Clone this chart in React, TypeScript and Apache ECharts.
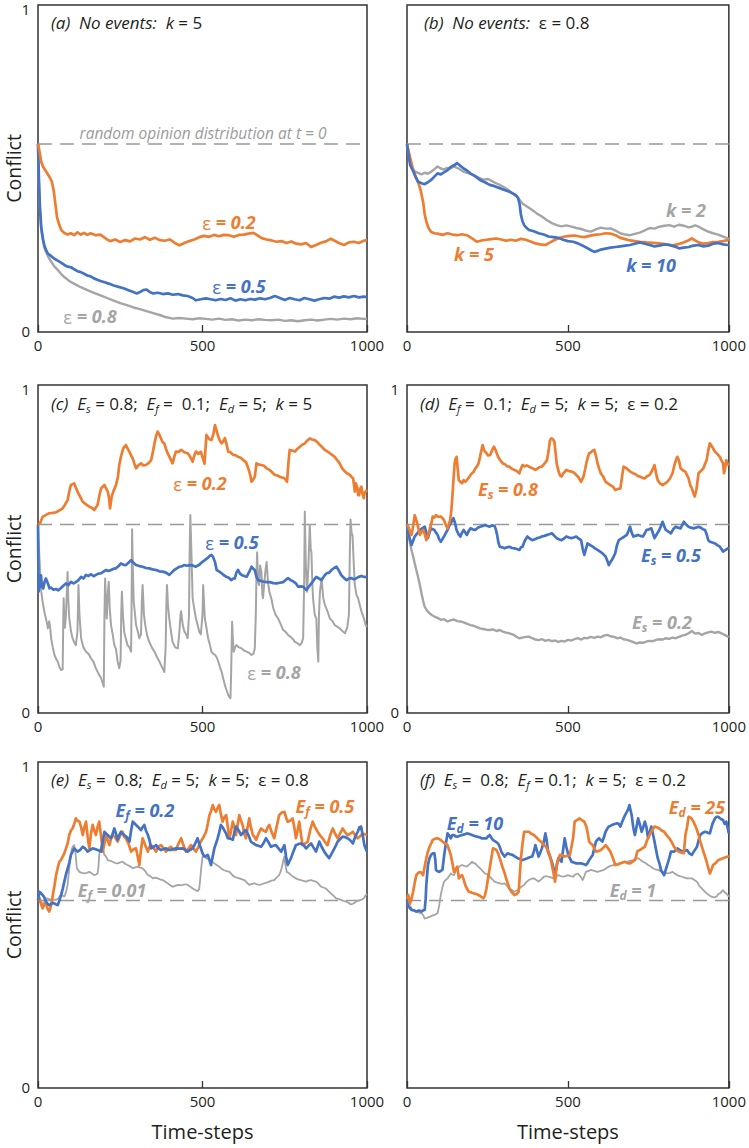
import React, { useEffect, useRef } from "react";
import * as echarts from "echarts";

// ---------- data ----------
const X_TICKS = [0, 500, 1000];
const Y_TICKS = [0, 1];
const RANDOM_BASELINE = 0.575;

// (a) No events, k = 5
const A_EPS02: number[][] = [[0,0.575],[5,0.55],[10,0.52],[15,0.506],[25,0.49],[35,0.474],[42,0.46],[48,0.43],[53,0.39],[58,0.35],[64,0.33],[71,0.311],[80,0.303],[90,0.298],[100,0.302],[110,0.296],[120,0.305],[130,0.298],[140,0.303],[150,0.297],[160,0.302],[175,0.296],[190,0.298],[200,0.29],[210,0.283],[220,0.278],[235,0.283],[250,0.275],[265,0.281],[280,0.277],[295,0.286],[310,0.283],[325,0.29],[340,0.282],[355,0.288],[370,0.281],[385,0.279],[400,0.283],[415,0.273],[430,0.265],[445,0.272],[460,0.278],[475,0.283],[490,0.29],[505,0.294],[520,0.291],[535,0.297],[550,0.293],[565,0.297],[580,0.296],[595,0.291],[610,0.297],[625,0.298],[640,0.301],[655,0.303],[665,0.297],[680,0.287],[695,0.283],[710,0.28],[725,0.276],[740,0.278],[755,0.272],[770,0.277],[785,0.27],[800,0.268],[815,0.272],[830,0.26],[845,0.266],[860,0.273],[875,0.277],[890,0.285],[900,0.28],[915,0.272],[930,0.266],[945,0.274],[960,0.276],[975,0.272],[990,0.279],[1000,0.281]];
const A_EPS05: number[][] = [[0,0.575],[3,0.46],[6,0.38],[10,0.32],[15,0.285],[20,0.262],[25,0.25],[30,0.24],[40,0.232],[50,0.224],[60,0.218],[70,0.212],[80,0.205],[90,0.2],[100,0.198],[110,0.192],[120,0.186],[130,0.183],[140,0.178],[150,0.173],[160,0.17],[170,0.164],[180,0.16],[190,0.156],[200,0.153],[215,0.148],[230,0.142],[245,0.138],[260,0.134],[275,0.128],[290,0.122],[300,0.118],[310,0.122],[320,0.128],[330,0.13],[340,0.122],[350,0.118],[365,0.12],[380,0.116],[395,0.118],[410,0.114],[425,0.116],[440,0.112],[455,0.11],[470,0.104],[480,0.097],[495,0.1],[510,0.103],[525,0.1],[540,0.097],[555,0.101],[570,0.098],[585,0.103],[600,0.096],[615,0.1],[630,0.097],[645,0.101],[660,0.099],[675,0.103],[690,0.1],[705,0.104],[720,0.11],[735,0.104],[750,0.098],[765,0.104],[780,0.1],[795,0.097],[810,0.104],[825,0.1],[840,0.096],[855,0.1],[870,0.104],[885,0.102],[900,0.108],[915,0.105],[930,0.109],[945,0.106],[960,0.11],[975,0.106],[990,0.108],[1000,0.107]];
const A_EPS08: number[][] = [[0,0.575],[3,0.45],[6,0.37],[10,0.31],[15,0.28],[20,0.255],[30,0.232],[40,0.215],[50,0.2],[60,0.19],[70,0.178],[80,0.168],[90,0.16],[100,0.153],[115,0.145],[130,0.137],[150,0.128],[170,0.12],[190,0.112],[210,0.104],[230,0.096],[250,0.088],[270,0.082],[290,0.075],[310,0.07],[330,0.064],[350,0.058],[370,0.052],[390,0.045],[410,0.041],[430,0.043],[450,0.041],[470,0.039],[490,0.042],[510,0.04],[530,0.038],[550,0.041],[570,0.037],[590,0.039],[610,0.035],[630,0.038],[650,0.036],[670,0.039],[690,0.037],[710,0.036],[730,0.038],[750,0.034],[770,0.036],[790,0.033],[810,0.036],[830,0.038],[850,0.035],[870,0.038],[890,0.04],[910,0.038],[930,0.041],[950,0.039],[970,0.042],[990,0.04],[1000,0.041]];

// (b) No events, eps = 0.8
const B_K2: number[][] = [[0,0.574],[5,0.545],[10,0.52],[14,0.51],[20,0.495],[30,0.488],[45,0.482],[55,0.487],[65,0.484],[75,0.49],[85,0.498],[95,0.506],[105,0.5],[115,0.497],[125,0.502],[135,0.5],[146,0.506],[160,0.5],[176,0.49],[190,0.486],[207,0.48],[222,0.472],[237,0.466],[252,0.468],[267,0.46],[283,0.452],[298,0.445],[313,0.436],[328,0.424],[343,0.412],[359,0.393],[374,0.383],[389,0.373],[404,0.362],[419,0.353],[435,0.342],[450,0.333],[465,0.327],[480,0.323],[495,0.326],[511,0.322],[526,0.318],[541,0.315],[556,0.31],[571,0.307],[587,0.314],[602,0.319],[617,0.316],[632,0.317],[648,0.31],[663,0.302],[678,0.298],[693,0.296],[708,0.3],[723,0.304],[739,0.311],[754,0.318],[769,0.316],[784,0.322],[800,0.325],[815,0.327],[830,0.322],[845,0.328],[860,0.325],[875,0.32],[885,0.322],[895,0.326],[906,0.322],[921,0.314],[936,0.307],[951,0.302],[967,0.298],[982,0.292],[997,0.286],[1000,0.284]];
const B_K5: number[][] = [[0,0.574],[8,0.54],[18,0.5],[26,0.475],[34,0.46],[42,0.435],[50,0.398],[55,0.36],[60,0.337],[67,0.318],[75,0.306],[85,0.302],[95,0.301],[110,0.297],[126,0.302],[141,0.298],[156,0.296],[171,0.299],[186,0.296],[202,0.286],[217,0.276],[232,0.28],[247,0.282],[262,0.284],[278,0.286],[293,0.283],[308,0.279],[323,0.282],[338,0.279],[354,0.285],[369,0.282],[384,0.277],[399,0.271],[414,0.268],[430,0.266],[445,0.274],[460,0.282],[475,0.288],[490,0.292],[506,0.294],[521,0.295],[536,0.292],[551,0.29],[566,0.294],[582,0.297],[602,0.299],[617,0.302],[632,0.301],[648,0.296],[663,0.288],[678,0.284],[693,0.28],[708,0.278],[723,0.276],[744,0.274],[764,0.273],[784,0.271],[805,0.268],[825,0.265],[840,0.268],[855,0.272],[870,0.278],[885,0.286],[895,0.28],[906,0.274],[921,0.27],[936,0.272],[951,0.275],[967,0.276],[982,0.278],[997,0.281],[1000,0.281]];
const B_K10: number[][] = [[0,0.574],[5,0.54],[10,0.51],[20,0.49],[34,0.46],[45,0.455],[55,0.452],[65,0.458],[75,0.465],[85,0.475],[95,0.485],[105,0.482],[115,0.488],[125,0.494],[136,0.505],[146,0.51],[156,0.516],[166,0.508],[176,0.5],[186,0.494],[197,0.485],[212,0.476],[227,0.465],[242,0.458],[257,0.45],[272,0.446],[288,0.44],[303,0.434],[318,0.429],[328,0.424],[338,0.419],[345,0.41],[350,0.39],[354,0.358],[359,0.338],[364,0.327],[372,0.318],[379,0.312],[394,0.308],[409,0.302],[425,0.298],[440,0.292],[455,0.29],[470,0.288],[485,0.282],[500,0.278],[516,0.276],[531,0.271],[546,0.264],[561,0.256],[572,0.25],[582,0.245],[592,0.248],[602,0.252],[617,0.255],[632,0.258],[648,0.26],[663,0.262],[678,0.264],[693,0.266],[708,0.27],[723,0.274],[739,0.27],[754,0.266],[769,0.262],[784,0.264],[800,0.268],[815,0.266],[830,0.262],[845,0.256],[860,0.258],[875,0.26],[890,0.264],[906,0.266],[921,0.262],[936,0.264],[951,0.27],[967,0.272],[982,0.268],[997,0.266],[1000,0.266]];

// (c) Es=0.8, Ef=0.1, Ed=5, k=5
const C_EPS02: number[][] = [[0,0.575],[6,0.578],[14,0.598],[24,0.604],[34,0.609],[45,0.61],[55,0.612],[65,0.618],[75,0.624],[82,0.635],[90,0.649],[96,0.68],[100,0.695],[110,0.7],[120,0.675],[128,0.66],[136,0.644],[146,0.636],[156,0.629],[165,0.625],[171,0.619],[181,0.634],[188,0.67],[192,0.685],[202,0.695],[212,0.675],[216,0.655],[219,0.624],[224,0.66],[229,0.675],[237,0.695],[243,0.72],[247,0.756],[253,0.785],[259,0.807],[267,0.817],[273,0.805],[278,0.796],[283,0.785],[288,0.776],[293,0.76],[298,0.746],[305,0.755],[313,0.761],[320,0.755],[328,0.756],[336,0.762],[344,0.771],[350,0.8],[354,0.822],[359,0.845],[364,0.858],[369,0.848],[374,0.837],[379,0.825],[384,0.822],[389,0.805],[394,0.792],[400,0.78],[409,0.761],[414,0.78],[419,0.797],[427,0.796],[435,0.802],[445,0.795],[455,0.792],[462,0.782],[470,0.766],[475,0.785],[480,0.797],[488,0.79],[495,0.797],[500,0.78],[506,0.76],[512,0.848],[520,0.835],[527,0.832],[533,0.85],[538,0.878],[543,0.86],[548,0.842],[553,0.83],[558,0.822],[563,0.828],[568,0.838],[573,0.82],[578,0.797],[585,0.795],[593,0.787],[600,0.786],[608,0.781],[616,0.778],[624,0.771],[632,0.765],[639,0.746],[644,0.73],[649,0.705],[654,0.712],[659,0.72],[664,0.761],[672,0.757],[679,0.756],[687,0.754],[695,0.746],[702,0.742],[710,0.736],[715,0.73],[720,0.726],[728,0.724],[735,0.72],[742,0.718],[750,0.715],[757,0.705],[761,0.76],[765,0.802],[773,0.8],[781,0.797],[788,0.805],[796,0.812],[803,0.818],[811,0.822],[818,0.83],[826,0.837],[833,0.834],[841,0.832],[849,0.826],[857,0.817],[864,0.81],[872,0.802],[880,0.797],[887,0.792],[895,0.786],[902,0.781],[910,0.77],[917,0.761],[925,0.745],[933,0.736],[940,0.73],[948,0.726],[953,0.72],[958,0.715],[963,0.675],[966,0.7],[970,0.69],[973,0.665],[976,0.664],[980,0.685],[983,0.69],[986,0.67],[990,0.655],[993,0.672],[996,0.675],[1000,0.68]];
const C_EPS05: number[][] = [[0,0.573],[1,0.45],[2,0.37],[5,0.39],[9,0.42],[12,0.385],[16,0.38],[20,0.4],[24,0.41],[30,0.395],[35,0.38],[40,0.382],[47,0.376],[55,0.378],[62,0.374],[70,0.381],[77,0.388],[85,0.395],[92,0.39],[100,0.4],[108,0.395],[115,0.399],[123,0.405],[131,0.415],[138,0.41],[146,0.421],[154,0.418],[161,0.423],[169,0.417],[176,0.421],[184,0.425],[192,0.426],[200,0.432],[207,0.436],[215,0.433],[222,0.436],[230,0.44],[237,0.441],[245,0.448],[252,0.456],[260,0.452],[267,0.451],[275,0.458],[283,0.466],[290,0.458],[298,0.451],[308,0.448],[318,0.446],[328,0.442],[338,0.441],[348,0.438],[359,0.436],[369,0.432],[379,0.431],[389,0.428],[399,0.421],[406,0.428],[414,0.436],[422,0.441],[430,0.446],[437,0.447],[445,0.451],[452,0.449],[460,0.451],[470,0.45],[480,0.446],[490,0.452],[500,0.461],[507,0.466],[515,0.472],[522,0.479],[527,0.482],[532,0.476],[538,0.46],[543,0.436],[550,0.432],[558,0.426],[565,0.42],[573,0.415],[580,0.412],[588,0.405],[593,0.41],[598,0.41],[603,0.428],[608,0.436],[614,0.425],[619,0.421],[627,0.418],[634,0.415],[642,0.43],[649,0.446],[654,0.44],[659,0.436],[664,0.415],[669,0.405],[677,0.403],[684,0.401],[695,0.399],[705,0.399],[715,0.396],[725,0.395],[735,0.397],[745,0.399],[752,0.405],[760,0.411],[768,0.405],[776,0.401],[784,0.395],[791,0.385],[799,0.386],[806,0.385],[811,0.38],[816,0.375],[823,0.385],[831,0.395],[838,0.405],[846,0.415],[854,0.41],[862,0.405],[870,0.418],[877,0.426],[885,0.428],[892,0.436],[900,0.442],[907,0.446],[914,0.435],[922,0.42],[930,0.412],[938,0.405],[945,0.41],[953,0.411],[960,0.408],[968,0.411],[975,0.415],[983,0.418],[990,0.415],[1000,0.414]];
const C_EPS08: number[][] = [[0,0.573],[3,0.5],[6,0.44],[10,0.37],[14,0.339],[19,0.31],[24,0.289],[28,0.27],[30,0.258],[34,0.28],[37,0.26],[40,0.228],[45,0.2],[50,0.177],[55,0.165],[60,0.157],[65,0.14],[70,0.131],[75,0.133],[77,0.3],[78,0.35],[80,0.28],[82,0.26],[85,0.3],[88,0.38],[90,0.43],[92,0.35],[95,0.29],[100,0.25],[105,0.228],[110,0.215],[115,0.207],[120,0.25],[123,0.39],[126,0.3],[131,0.228],[138,0.2],[146,0.187],[154,0.18],[161,0.167],[169,0.155],[176,0.136],[184,0.12],[192,0.106],[197,0.09],[200,0.08],[202,0.3],[204,0.41],[207,0.33],[209,0.288],[212,0.36],[215,0.4],[218,0.32],[222,0.268],[227,0.24],[232,0.207],[237,0.195],[242,0.157],[247,0.136],[251,0.16],[253,0.3],[255,0.37],[258,0.3],[262,0.248],[267,0.226],[272,0.207],[278,0.2],[283,0.187],[285,0.4],[286,0.56],[288,0.45],[291,0.339],[295,0.3],[298,0.268],[303,0.25],[308,0.228],[313,0.24],[316,0.35],[318,0.39],[322,0.3],[326,0.268],[332,0.235],[338,0.217],[346,0.2],[354,0.187],[362,0.17],[369,0.157],[377,0.14],[384,0.125],[388,0.2],[390,0.32],[392,0.39],[395,0.33],[399,0.288],[404,0.25],[409,0.217],[417,0.2],[425,0.197],[430,0.25],[433,0.3],[435,0.31],[440,0.268],[445,0.248],[450,0.24],[455,0.228],[459,0.3],[461,0.5],[463,0.604],[466,0.5],[470,0.35],[475,0.317],[480,0.288],[485,0.27],[490,0.248],[495,0.24],[500,0.3],[502,0.39],[505,0.33],[507,0.288],[512,0.26],[517,0.228],[522,0.21],[527,0.187],[533,0.18],[538,0.177],[543,0.17],[548,0.157],[553,0.14],[558,0.126],[563,0.105],[568,0.085],[573,0.07],[578,0.055],[582,0.048],[585,0.045],[587,0.12],[590,0.278],[592,0.23],[595,0.187],[599,0.2],[603,0.207],[611,0.2],[619,0.197],[627,0.19],[634,0.187],[642,0.183],[649,0.177],[655,0.18],[659,0.197],[662,0.3],[664,0.42],[666,0.49],[669,0.4],[672,0.39],[675,0.45],[679,0.431],[682,0.36],[684,0.35],[688,0.4],[692,0.44],[695,0.46],[699,0.4],[703,0.37],[709,0.35],[715,0.32],[722,0.3],[730,0.288],[738,0.27],[745,0.253],[752,0.248],[760,0.238],[768,0.232],[775,0.225],[781,0.217],[788,0.213],[796,0.207],[801,0.213],[806,0.228],[809,0.4],[811,0.614],[814,0.45],[818,0.37],[822,0.45],[826,0.573],[829,0.5],[831,0.49],[834,0.39],[836,0.35],[841,0.3],[846,0.288],[849,0.2],[852,0.157],[854,0.3],[857,0.37],[862,0.41],[867,0.35],[872,0.33],[880,0.31],[887,0.288],[895,0.28],[902,0.268],[910,0.263],[917,0.258],[925,0.25],[933,0.243],[940,0.26],[945,0.3],[948,0.5],[950,0.59],[953,0.55],[956,0.54],[960,0.45],[963,0.39],[968,0.36],[973,0.35],[978,0.33],[983,0.31],[990,0.29],[996,0.268],[1000,0.262]];

// (d) Ef=0.1, Ed=5, k=5, eps=0.2
const D_ES08: number[][] = [[0,0.575],[4,0.568],[9,0.555],[14,0.543],[19,0.57],[24,0.603],[28,0.59],[32,0.578],[36,0.56],[40,0.543],[45,0.552],[50,0.558],[55,0.545],[60,0.527],[65,0.54],[70,0.558],[75,0.575],[80,0.599],[85,0.596],[90,0.603],[97,0.598],[105,0.599],[110,0.594],[115,0.588],[120,0.575],[126,0.563],[130,0.575],[134,0.588],[138,0.62],[141,0.66],[145,0.72],[148,0.761],[151,0.775],[154,0.781],[158,0.74],[161,0.71],[166,0.705],[171,0.7],[176,0.71],[181,0.705],[186,0.71],[192,0.718],[197,0.725],[202,0.731],[207,0.735],[212,0.745],[217,0.751],[222,0.76],[227,0.781],[231,0.8],[235,0.817],[240,0.8],[247,0.792],[252,0.785],[259,0.787],[264,0.8],[270,0.812],[276,0.8],[283,0.781],[290,0.77],[298,0.761],[305,0.758],[311,0.752],[318,0.751],[325,0.745],[334,0.741],[341,0.738],[349,0.731],[354,0.745],[359,0.756],[366,0.752],[372,0.755],[379,0.751],[386,0.748],[392,0.745],[399,0.741],[405,0.745],[412,0.75],[419,0.751],[427,0.76],[435,0.771],[440,0.8],[444,0.83],[448,0.837],[453,0.835],[458,0.827],[462,0.79],[465,0.761],[470,0.74],[475,0.725],[480,0.721],[485,0.73],[490,0.735],[495,0.741],[503,0.738],[511,0.736],[518,0.733],[526,0.726],[533,0.718],[541,0.705],[548,0.72],[553,0.741],[558,0.765],[562,0.78],[566,0.792],[572,0.795],[577,0.8],[582,0.802],[587,0.785],[592,0.761],[597,0.745],[602,0.731],[610,0.72],[617,0.705],[624,0.7],[632,0.695],[640,0.69],[647,0.68],[655,0.683],[663,0.685],[668,0.72],[673,0.751],[680,0.748],[688,0.741],[695,0.735],[703,0.731],[710,0.728],[718,0.722],[723,0.721],[730,0.718],[738,0.715],[746,0.722],[754,0.726],[762,0.74],[769,0.756],[774,0.73],[779,0.71],[786,0.7],[794,0.695],[802,0.7],[809,0.705],[817,0.715],[825,0.731],[832,0.76],[837,0.775],[840,0.781],[845,0.77],[850,0.746],[857,0.74],[865,0.736],[870,0.725],[875,0.715],[880,0.695],[885,0.685],[890,0.67],[894,0.66],[899,0.68],[906,0.731],[913,0.738],[921,0.746],[926,0.76],[931,0.771],[936,0.8],[941,0.822],[946,0.815],[952,0.805],[957,0.797],[964,0.79],[972,0.781],[977,0.77],[982,0.761],[985,0.731],[988,0.745],[992,0.771],[996,0.76],[1000,0.755]];
const D_ES05: number[][] = [[0,0.575],[4,0.548],[9,0.53],[14,0.512],[19,0.525],[24,0.538],[30,0.545],[35,0.552],[40,0.558],[47,0.563],[55,0.568],[60,0.55],[65,0.533],[70,0.55],[75,0.563],[80,0.56],[85,0.558],[90,0.55],[95,0.543],[100,0.53],[105,0.522],[110,0.53],[115,0.538],[120,0.548],[126,0.558],[131,0.57],[136,0.578],[140,0.588],[144,0.594],[149,0.58],[154,0.558],[160,0.545],[166,0.538],[171,0.55],[176,0.558],[181,0.55],[186,0.543],[192,0.555],[197,0.563],[204,0.56],[212,0.558],[220,0.565],[227,0.568],[235,0.57],[242,0.573],[250,0.57],[257,0.568],[264,0.572],[272,0.57],[276,0.56],[280,0.543],[284,0.52],[288,0.507],[295,0.505],[303,0.502],[311,0.505],[318,0.507],[326,0.503],[334,0.502],[341,0.5],[349,0.497],[354,0.505],[359,0.507],[366,0.525],[374,0.538],[381,0.532],[389,0.527],[397,0.53],[404,0.533],[412,0.535],[419,0.538],[427,0.54],[435,0.543],[442,0.545],[450,0.548],[458,0.54],[465,0.533],[472,0.53],[480,0.527],[488,0.532],[495,0.538],[503,0.535],[511,0.533],[518,0.535],[526,0.538],[533,0.532],[541,0.527],[546,0.5],[551,0.482],[556,0.5],[561,0.517],[569,0.512],[577,0.507],[584,0.502],[592,0.497],[600,0.492],[607,0.487],[612,0.482],[617,0.477],[622,0.465],[627,0.451],[632,0.46],[637,0.467],[642,0.477],[647,0.487],[652,0.51],[658,0.527],[663,0.53],[668,0.533],[675,0.538],[683,0.543],[688,0.555],[693,0.568],[698,0.55],[703,0.538],[710,0.54],[718,0.543],[725,0.54],[733,0.538],[739,0.548],[744,0.558],[752,0.56],[759,0.563],[764,0.548],[769,0.533],[776,0.545],[784,0.558],[789,0.57],[794,0.583],[799,0.57],[804,0.558],[812,0.553],[820,0.548],[827,0.56],[835,0.568],[842,0.565],[850,0.563],[855,0.573],[860,0.583],[867,0.575],[875,0.568],[882,0.565],[890,0.563],[898,0.565],[906,0.568],[913,0.565],[920,0.56],[926,0.558],[931,0.545],[936,0.527],[941,0.522],[949,0.52],[957,0.517],[964,0.512],[972,0.507],[977,0.5],[982,0.492],[990,0.497],[997,0.502],[1000,0.5]];
const D_ES02: number[][] = [[0,0.575],[4,0.548],[9,0.52],[14,0.497],[19,0.478],[24,0.456],[29,0.436],[34,0.416],[40,0.39],[45,0.365],[50,0.342],[55,0.324],[62,0.312],[70,0.304],[78,0.298],[85,0.294],[95,0.29],[105,0.284],[115,0.286],[126,0.279],[136,0.283],[146,0.285],[156,0.28],[166,0.279],[176,0.276],[187,0.272],[197,0.268],[207,0.266],[217,0.262],[227,0.258],[237,0.256],[247,0.254],[257,0.253],[267,0.255],[278,0.25],[288,0.253],[298,0.248],[308,0.245],[318,0.243],[328,0.24],[339,0.233],[349,0.228],[359,0.23],[369,0.232],[379,0.233],[389,0.228],[399,0.224],[409,0.222],[420,0.225],[430,0.22],[440,0.223],[450,0.219],[460,0.221],[470,0.217],[480,0.22],[490,0.218],[500,0.223],[511,0.221],[521,0.225],[531,0.228],[541,0.224],[551,0.229],[561,0.228],[571,0.232],[582,0.229],[592,0.233],[602,0.231],[612,0.236],[622,0.238],[632,0.234],[643,0.232],[653,0.228],[663,0.23],[673,0.225],[683,0.223],[693,0.22],[703,0.216],[713,0.212],[723,0.215],[734,0.214],[744,0.218],[754,0.22],[764,0.219],[774,0.223],[784,0.225],[794,0.224],[804,0.228],[814,0.226],[825,0.23],[835,0.228],[845,0.232],[855,0.236],[865,0.238],[875,0.243],[885,0.25],[895,0.242],[906,0.244],[916,0.238],[926,0.243],[936,0.246],[946,0.248],[956,0.244],[967,0.247],[977,0.243],[987,0.238],[997,0.233],[1000,0.234]];

// (e) Es=0.8, Ed=5, k=5, eps=0.8
const E_EF05: number[][] = [[0,0.575],[4,0.582],[9,0.565],[14,0.551],[19,0.562],[24,0.566],[29,0.55],[34,0.541],[40,0.56],[45,0.592],[50,0.62],[55,0.653],[60,0.675],[65,0.694],[70,0.7],[75,0.71],[80,0.72],[85,0.735],[90,0.75],[95,0.776],[100,0.79],[105,0.796],[110,0.81],[115,0.827],[120,0.82],[126,0.817],[131,0.8],[136,0.776],[141,0.8],[146,0.817],[151,0.77],[156,0.735],[161,0.78],[166,0.807],[171,0.79],[176,0.776],[181,0.8],[186,0.817],[192,0.77],[197,0.725],[202,0.75],[207,0.776],[212,0.76],[217,0.745],[222,0.765],[227,0.776],[234,0.77],[242,0.756],[250,0.775],[257,0.786],[262,0.77],[267,0.766],[275,0.75],[283,0.725],[290,0.732],[298,0.735],[303,0.71],[308,0.684],[313,0.73],[318,0.766],[326,0.745],[334,0.725],[339,0.74],[344,0.745],[352,0.735],[359,0.725],[366,0.74],[374,0.745],[382,0.735],[389,0.725],[397,0.735],[404,0.74],[412,0.73],[419,0.73],[427,0.75],[435,0.766],[442,0.745],[450,0.725],[458,0.735],[465,0.745],[472,0.735],[480,0.725],[488,0.74],[495,0.756],[503,0.77],[511,0.786],[516,0.81],[521,0.837],[526,0.85],[531,0.868],[536,0.855],[541,0.847],[546,0.86],[551,0.868],[556,0.84],[561,0.817],[566,0.83],[572,0.837],[577,0.8],[582,0.766],[587,0.79],[592,0.817],[597,0.8],[602,0.776],[607,0.81],[612,0.837],[617,0.82],[622,0.807],[627,0.78],[632,0.766],[637,0.8],[642,0.827],[647,0.8],[653,0.776],[658,0.77],[663,0.761],[670,0.78],[678,0.796],[685,0.79],[693,0.786],[698,0.8],[703,0.807],[710,0.785],[718,0.766],[725,0.8],[733,0.837],[741,0.845],[749,0.847],[754,0.83],[759,0.817],[766,0.82],[774,0.827],[779,0.8],[784,0.766],[789,0.79],[794,0.817],[799,0.78],[804,0.745],[812,0.75],[820,0.756],[827,0.79],[835,0.817],[842,0.8],[850,0.786],[857,0.775],[865,0.766],[872,0.755],[880,0.745],[888,0.775],[896,0.796],[903,0.78],[911,0.766],[918,0.78],[926,0.796],[933,0.785],[941,0.776],[949,0.78],[957,0.786],[964,0.775],[972,0.766],[980,0.773],[987,0.781],[994,0.778],[1000,0.776]];
const E_EF02: number[][] = [[0,0.575],[4,0.602],[9,0.598],[14,0.592],[19,0.585],[24,0.572],[29,0.565],[34,0.561],[40,0.565],[45,0.568],[50,0.566],[55,0.563],[60,0.561],[65,0.575],[70,0.592],[75,0.61],[80,0.633],[85,0.655],[90,0.673],[95,0.69],[100,0.715],[105,0.725],[110,0.735],[115,0.73],[120,0.725],[128,0.73],[136,0.74],[143,0.735],[151,0.725],[158,0.73],[166,0.735],[173,0.733],[181,0.73],[186,0.728],[192,0.725],[197,0.76],[202,0.786],[207,0.78],[212,0.776],[217,0.77],[222,0.766],[227,0.78],[232,0.796],[237,0.78],[242,0.761],[247,0.775],[252,0.786],[257,0.78],[262,0.776],[270,0.77],[278,0.756],[283,0.79],[288,0.817],[293,0.812],[298,0.807],[305,0.8],[313,0.791],[318,0.8],[323,0.807],[328,0.79],[334,0.776],[339,0.76],[344,0.735],[352,0.74],[359,0.745],[366,0.735],[374,0.73],[382,0.733],[389,0.735],[397,0.73],[404,0.73],[412,0.733],[419,0.735],[430,0.734],[440,0.735],[448,0.73],[455,0.725],[462,0.73],[470,0.735],[478,0.75],[485,0.766],[490,0.75],[495,0.735],[500,0.72],[506,0.71],[511,0.712],[516,0.715],[521,0.7],[526,0.684],[531,0.71],[536,0.735],[541,0.75],[546,0.766],[551,0.785],[556,0.807],[561,0.8],[566,0.791],[572,0.78],[577,0.766],[585,0.765],[592,0.761],[597,0.785],[602,0.802],[610,0.79],[617,0.776],[625,0.785],[632,0.791],[640,0.775],[647,0.756],[655,0.75],[663,0.745],[670,0.743],[678,0.74],[685,0.75],[693,0.766],[700,0.755],[708,0.74],[715,0.743],[723,0.745],[731,0.735],[739,0.725],[744,0.735],[749,0.745],[754,0.71],[759,0.684],[764,0.695],[769,0.705],[776,0.725],[784,0.745],[791,0.748],[799,0.75],[807,0.745],[815,0.735],[822,0.743],[830,0.75],[837,0.738],[845,0.725],[850,0.74],[855,0.756],[862,0.74],[870,0.725],[877,0.715],[885,0.705],[893,0.72],[901,0.735],[906,0.745],[911,0.756],[918,0.763],[926,0.771],[933,0.77],[941,0.766],[949,0.76],[957,0.75],[964,0.77],[972,0.786],[977,0.8],[982,0.802],[987,0.775],[992,0.745],[996,0.735],[1000,0.725]];
const E_EF001: number[][] = [[0,0.575],[4,0.587],[9,0.575],[14,0.561],[19,0.57],[24,0.582],[32,0.58],[40,0.577],[47,0.578],[55,0.577],[62,0.582],[70,0.592],[75,0.59],[80,0.587],[85,0.6],[90,0.623],[95,0.674],[99,0.71],[103,0.735],[107,0.742],[110,0.745],[114,0.72],[118,0.674],[126,0.663],[133,0.66],[141,0.658],[148,0.66],[156,0.663],[164,0.658],[171,0.653],[176,0.655],[181,0.658],[184,0.68],[186,0.715],[190,0.735],[194,0.745],[198,0.73],[202,0.715],[207,0.71],[212,0.699],[220,0.697],[227,0.694],[235,0.69],[242,0.689],[250,0.692],[257,0.694],[265,0.688],[272,0.684],[280,0.68],[288,0.674],[295,0.677],[303,0.679],[311,0.676],[318,0.674],[326,0.665],[334,0.653],[341,0.65],[349,0.643],[356,0.645],[364,0.643],[371,0.64],[379,0.638],[387,0.633],[394,0.628],[402,0.622],[409,0.617],[417,0.62],[425,0.623],[432,0.622],[440,0.623],[447,0.625],[455,0.623],[462,0.618],[470,0.612],[477,0.608],[485,0.604],[490,0.61],[493,0.64],[496,0.674],[500,0.71],[505,0.712],[511,0.705],[516,0.703],[521,0.699],[528,0.695],[536,0.689],[543,0.684],[551,0.679],[558,0.672],[566,0.668],[574,0.665],[582,0.663],[589,0.655],[597,0.648],[604,0.645],[612,0.643],[620,0.64],[627,0.638],[635,0.63],[642,0.623],[650,0.626],[658,0.628],[665,0.625],[673,0.623],[680,0.625],[688,0.628],[695,0.63],[703,0.633],[710,0.636],[718,0.638],[725,0.645],[733,0.653],[738,0.665],[742,0.68],[746,0.7],[749,0.71],[752,0.685],[756,0.663],[762,0.66],[769,0.653],[776,0.648],[784,0.643],[791,0.64],[799,0.638],[807,0.635],[815,0.633],[822,0.636],[830,0.638],[837,0.635],[845,0.633],[852,0.627],[860,0.618],[867,0.615],[875,0.612],[882,0.605],[890,0.597],[898,0.59],[906,0.582],[913,0.58],[921,0.577],[928,0.574],[936,0.572],[944,0.568],[951,0.563],[959,0.566],[967,0.572],[974,0.575],[982,0.577],[990,0.582],[997,0.592],[1000,0.594]];

// (f) Es=0.8, Ef=0.1, k=5, eps=0.2
const F_ED25: number[][] = [[0,0.58],[4,0.592],[9,0.566],[14,0.58],[19,0.602],[24,0.63],[29,0.653],[35,0.66],[40,0.663],[45,0.66],[50,0.653],[55,0.68],[60,0.705],[65,0.725],[70,0.74],[75,0.75],[80,0.761],[88,0.765],[95,0.766],[103,0.762],[110,0.756],[118,0.75],[126,0.745],[131,0.73],[136,0.715],[141,0.69],[146,0.663],[151,0.67],[156,0.679],[159,0.66],[161,0.643],[166,0.65],[171,0.653],[176,0.64],[181,0.623],[186,0.612],[192,0.602],[200,0.6],[207,0.597],[215,0.595],[222,0.592],[230,0.587],[237,0.582],[242,0.59],[247,0.612],[252,0.645],[257,0.674],[262,0.705],[267,0.735],[273,0.733],[278,0.73],[283,0.72],[288,0.705],[293,0.69],[298,0.674],[303,0.66],[308,0.643],[313,0.628],[318,0.612],[326,0.6],[334,0.592],[341,0.595],[347,0.602],[351,0.66],[354,0.705],[359,0.75],[364,0.786],[372,0.786],[379,0.786],[386,0.78],[394,0.776],[401,0.77],[409,0.761],[417,0.755],[425,0.745],[432,0.74],[440,0.725],[445,0.71],[450,0.684],[455,0.66],[460,0.633],[463,0.66],[465,0.684],[470,0.7],[475,0.715],[483,0.713],[490,0.71],[498,0.712],[506,0.715],[511,0.74],[516,0.766],[521,0.817],[528,0.822],[536,0.827],[543,0.822],[551,0.817],[558,0.8],[566,0.756],[571,0.75],[577,0.745],[582,0.735],[587,0.725],[595,0.727],[602,0.73],[610,0.737],[617,0.745],[625,0.735],[632,0.725],[640,0.705],[647,0.684],[655,0.686],[663,0.689],[670,0.692],[678,0.694],[685,0.69],[693,0.689],[700,0.694],[708,0.699],[712,0.71],[715,0.725],[719,0.728],[723,0.73],[731,0.735],[739,0.74],[746,0.76],[754,0.776],[761,0.79],[769,0.802],[776,0.8],[784,0.796],[791,0.79],[799,0.786],[807,0.775],[815,0.766],[822,0.755],[830,0.74],[837,0.73],[845,0.725],[852,0.722],[860,0.72],[865,0.776],[870,0.8],[875,0.832],[880,0.83],[885,0.825],[890,0.817],[898,0.8],[906,0.776],[913,0.75],[921,0.725],[926,0.71],[931,0.694],[936,0.675],[941,0.658],[946,0.67],[951,0.684],[959,0.69],[967,0.699],[974,0.702],[982,0.705],[990,0.708],[997,0.71],[1000,0.71]];
const F_ED10: number[][] = [[0,0.575],[4,0.556],[9,0.552],[14,0.546],[22,0.545],[29,0.541],[37,0.545],[45,0.541],[50,0.545],[55,0.546],[58,0.58],[60,0.623],[63,0.66],[65,0.684],[70,0.705],[75,0.715],[80,0.72],[85,0.72],[88,0.7],[90,0.669],[95,0.665],[100,0.663],[105,0.666],[110,0.669],[115,0.71],[120,0.745],[126,0.781],[131,0.775],[136,0.766],[141,0.776],[146,0.776],[151,0.772],[156,0.771],[164,0.774],[171,0.776],[179,0.778],[186,0.781],[194,0.779],[202,0.776],[210,0.773],[217,0.771],[225,0.769],[232,0.766],[240,0.766],[247,0.766],[252,0.772],[257,0.776],[262,0.768],[267,0.761],[275,0.756],[283,0.75],[288,0.74],[293,0.725],[298,0.717],[303,0.71],[308,0.715],[313,0.72],[320,0.717],[328,0.715],[336,0.71],[344,0.705],[352,0.702],[359,0.699],[366,0.702],[374,0.705],[381,0.708],[389,0.71],[394,0.725],[399,0.745],[404,0.727],[409,0.71],[414,0.722],[419,0.735],[425,0.755],[430,0.781],[434,0.76],[438,0.725],[444,0.71],[450,0.694],[455,0.675],[460,0.653],[465,0.68],[470,0.705],[475,0.7],[480,0.694],[485,0.73],[490,0.766],[495,0.74],[500,0.72],[506,0.705],[511,0.694],[518,0.692],[526,0.689],[533,0.689],[541,0.689],[548,0.687],[556,0.684],[561,0.69],[566,0.699],[572,0.708],[577,0.715],[582,0.735],[587,0.756],[592,0.762],[597,0.766],[602,0.76],[607,0.756],[612,0.77],[617,0.786],[622,0.795],[627,0.802],[632,0.804],[637,0.807],[645,0.81],[653,0.812],[658,0.81],[663,0.802],[668,0.815],[673,0.827],[678,0.838],[683,0.847],[687,0.855],[691,0.868],[694,0.855],[698,0.837],[703,0.8],[708,0.776],[713,0.8],[718,0.827],[723,0.81],[729,0.786],[734,0.8],[739,0.817],[744,0.8],[749,0.766],[754,0.785],[759,0.802],[764,0.78],[769,0.756],[774,0.73],[779,0.705],[784,0.69],[789,0.669],[794,0.66],[799,0.653],[804,0.67],[810,0.689],[815,0.705],[820,0.725],[825,0.725],[830,0.725],[835,0.73],[840,0.735],[848,0.73],[855,0.725],[862,0.727],[870,0.73],[877,0.72],[885,0.715],[893,0.728],[901,0.74],[906,0.76],[911,0.776],[918,0.782],[926,0.786],[933,0.784],[941,0.781],[949,0.81],[957,0.827],[962,0.832],[967,0.832],[975,0.825],[982,0.822],[987,0.81],[992,0.817],[997,0.795],[1000,0.781]];
const F_ED1: number[][] = [[0,0.575],[4,0.572],[9,0.56],[14,0.551],[21,0.545],[29,0.541],[37,0.538],[45,0.536],[50,0.53],[55,0.52],[62,0.522],[70,0.525],[77,0.528],[85,0.531],[90,0.533],[95,0.536],[100,0.56],[105,0.592],[110,0.615],[115,0.633],[120,0.638],[126,0.643],[131,0.65],[136,0.658],[141,0.655],[146,0.653],[151,0.665],[156,0.674],[164,0.68],[171,0.684],[179,0.681],[186,0.679],[194,0.686],[202,0.694],[207,0.69],[212,0.689],[220,0.68],[227,0.674],[235,0.665],[242,0.658],[250,0.655],[257,0.648],[265,0.64],[272,0.633],[280,0.63],[288,0.628],[295,0.626],[303,0.628],[311,0.62],[318,0.612],[326,0.607],[334,0.602],[341,0.606],[349,0.612],[356,0.618],[364,0.623],[371,0.632],[379,0.638],[387,0.642],[394,0.643],[402,0.638],[409,0.633],[417,0.64],[425,0.648],[432,0.65],[440,0.648],[447,0.646],[455,0.643],[462,0.648],[470,0.653],[477,0.65],[485,0.648],[492,0.65],[500,0.653],[508,0.65],[516,0.648],[523,0.655],[531,0.658],[538,0.65],[546,0.638],[551,0.65],[556,0.663],[564,0.666],[572,0.669],[582,0.666],[592,0.663],[602,0.666],[612,0.669],[620,0.675],[627,0.679],[635,0.682],[642,0.684],[653,0.686],[663,0.689],[673,0.692],[683,0.694],[693,0.697],[703,0.699],[710,0.702],[718,0.705],[725,0.7],[733,0.694],[741,0.69],[749,0.684],[756,0.68],[764,0.674],[771,0.671],[779,0.669],[787,0.666],[794,0.663],[802,0.66],[810,0.658],[817,0.66],[825,0.663],[832,0.658],[840,0.653],[847,0.65],[855,0.648],[862,0.645],[870,0.643],[877,0.643],[885,0.643],[893,0.638],[901,0.633],[908,0.62],[916,0.612],[923,0.605],[931,0.597],[938,0.592],[946,0.587],[954,0.585],[962,0.587],[967,0.595],[972,0.597],[977,0.602],[982,0.607],[987,0.6],[992,0.597],[996,0.592],[1000,0.587]];

// ---------- styling ----------
const ORANGE = "#ED7D31";
const BLUE = "#4472C4";
const GRAY = "#A5A5A5";
const INK = "#231F20";
const FONT = "Open Sans";

const GRID_BOXES = [
  { left: 38, top: 5, width: 329, height: 327 },
  { left: 407, top: 5, width: 329, height: 327 },
  { left: 38, top: 385, width: 329, height: 328 },
  { left: 407, top: 385, width: 329, height: 328 },
  { left: 38, top: 762, width: 329, height: 326 },
  { left: 407, top: 762, width: 329, height: 326 },
];

type LineDef = [number[][], string, number];
const PANELS: { yLabels: boolean; yName: boolean; xName: boolean; lines: LineDef[] }[] = [
  { yLabels: true, yName: true, xName: false, lines: [[A_EPS08, GRAY, 2.4], [A_EPS05, BLUE, 2.7], [A_EPS02, ORANGE, 2.7]] },
  { yLabels: false, yName: false, xName: false, lines: [[B_K2, GRAY, 2.4], [B_K5, ORANGE, 2.7], [B_K10, BLUE, 2.7]] },
  { yLabels: true, yName: true, xName: false, lines: [[C_EPS08, GRAY, 2.0], [C_EPS05, BLUE, 2.7], [C_EPS02, ORANGE, 2.7]] },
  { yLabels: true, yName: false, xName: false, lines: [[D_ES02, GRAY, 2.4], [D_ES05, BLUE, 2.7], [D_ES08, ORANGE, 2.7]] },
  { yLabels: true, yName: true, xName: true, lines: [[E_EF001, GRAY, 1.8], [E_EF05, ORANGE, 2.7], [E_EF02, BLUE, 2.7]] },
  { yLabels: false, yName: false, xName: true, lines: [[F_ED1, GRAY, 1.8], [F_ED10, BLUE, 2.7], [F_ED25, ORANGE, 2.7]] },
];

const TITLE_SIZE = 17;
const titleRich = {
  i: { fontStyle: "italic", fontSize: TITLE_SIZE, fontFamily: FONT, fill: INK, lineHeight: 22 },
  s: { fontStyle: "italic", fontSize: 11, fontFamily: FONT, fill: INK, lineHeight: 14, verticalAlign: "bottom" },
};

function title(x: number, y: number, text: string) {
  return {
    type: "text",
    x,
    y,
    z: 100,
    style: {
      text,
      rich: titleRich,
      fontSize: TITLE_SIZE,
      fontFamily: FONT,
      fill: INK,
      align: "left",
      verticalAlign: "middle",
    },
  };
}

function seriesLabel(x: number, y: number, text: string, color: string) {
  return {
    type: "text",
    x,
    y,
    z: 100,
    style: {
      text,
      rich: {
        g: { fontSize: 18.5, fontFamily: FONT, fill: color, lineHeight: 22 },
        b: { fontSize: 18, fontStyle: "italic", fontWeight: "bold", fontFamily: FONT, fill: color, lineHeight: 22 },
        bs: { fontSize: 12, fontStyle: "italic", fontWeight: "bold", fontFamily: FONT, fill: color, lineHeight: 14, verticalAlign: "bottom" },
      },
      fontSize: 18,
      fontFamily: FONT,
      fill: color,
      align: "center",
      verticalAlign: "middle",
    },
  };
}

function buildOption() {
  const grid = GRID_BOXES.map((g) => ({
    ...g,
    show: true,
    borderColor: "#333",
    borderWidth: 1.5,
    backgroundColor: "transparent",
    containLabel: false,
  }));

  const xAxis = PANELS.map((p, i) => ({
    type: "value",
    gridIndex: i,
    min: X_TICKS[0],
    max: X_TICKS[X_TICKS.length - 1],
    interval: X_TICKS[1] - X_TICKS[0],
    axisLine: { show: false },
    axisTick: { show: true, inside: true, length: 7, lineStyle: { color: "#333", width: 1.3 } },
    splitLine: { show: false },
    axisLabel: { color: INK, fontSize: 15, fontFamily: FONT, margin: 5, formatter: (v: number) => String(v) },
    name: p.xName ? "Time-steps" : "",
    nameLocation: "middle",
    nameGap: 33,
    nameMoveOverlap: false,
    nameTextStyle: { color: INK, fontSize: 20, fontFamily: FONT },
  }));

  const yAxis = PANELS.map((p, i) => ({
    type: "value",
    gridIndex: i,
    min: Y_TICKS[0],
    max: Y_TICKS[1],
    interval: Y_TICKS[1] - Y_TICKS[0],
    axisLine: { show: false },
    axisTick: { show: false },
    splitLine: { show: false },
    axisLabel: {
      show: p.yLabels,
      margin: 8,
      formatter: (v: number) => (v === Y_TICKS[1] ? `{t|${v}}` : `{z|${v}}`),
      rich: {
        t: { color: INK, fontSize: 15, fontFamily: FONT, padding: [8, 0, 0, 0] },
        z: { color: INK, fontSize: 15, fontFamily: FONT, padding: [0, 0, 3, 0] },
      },
    },
    name: p.yName ? "Conflict" : "",
    nameLocation: "middle",
    nameGap: 15,
    nameMoveOverlap: false,
    nameTextStyle: { color: INK, fontSize: 19.5, fontFamily: FONT, lineHeight: 20 },
  }));

  const series: any[] = [];
  PANELS.forEach((p, i) => {
    series.push({
      type: "line",
      xAxisIndex: i,
      yAxisIndex: i,
      data: [[X_TICKS[0], RANDOM_BASELINE], [X_TICKS[X_TICKS.length - 1], RANDOM_BASELINE]],
      symbol: "none",
      silent: true,
      z: 1,
      lineStyle: { color: "#999", width: 1.5, type: [14, 8] },
    });
    p.lines.forEach(([data, color, width]) => {
      series.push({
        type: "line",
        xAxisIndex: i,
        yAxisIndex: i,
        data,
        symbol: "none",
        showSymbol: false,
        silent: true,
        z: 2,
        lineStyle: { color, width, join: "round" },
      });
    });
  });

  const graphic = [
    title(51, 22, "{i|(a)}  {i|No events:}  {i|k} = 5"),
    title(424, 22, "{i|(b)}  {i|No events:}  ε = 0.8"),
    title(51, 403, "{i|(c)}  {i|E}{s|s} = 0.8;  {i|E}{s|f} =  0.1;  {i|E}{s|d} = 5;  {i|k} = 5"),
    title(420, 403, "{i|(d)}  {i|E}{s|f} =  0.1;  {i|E}{s|d} = 5;  {i|k} = 5;  ε = 0.2"),
    title(51, 779, "{i|(e)}  {i|E}{s|s} =  0.8;  {i|E}{s|d} = 5;  {i|k} = 5;  ε = 0.8"),
    title(420, 779, "{i|(f)}  {i|E}{s|s} =  0.8;  {i|E}{s|f} = 0.1;  {i|k} = 5;  ε = 0.2"),
    {
      type: "text",
      x: 203,
      y: 133,
      z: 100,
      style: { text: "random opinion distribution at t = 0", fontSize: 15.5, fontStyle: "italic", fontFamily: FONT, fill: "#9B9B9B", align: "center", verticalAlign: "middle" },
    },
    seriesLabel(229, 222, "{g|ε} {b|= 0.2}", ORANGE),
    seriesLabel(239, 286, "{g|ε} {b|= 0.5}", BLUE),
    seriesLabel(90, 316, "{g|ε} {b|= 0.8}", GRAY),
    seriesLabel(686, 210, "{b|k = 2}", GRAY),
    seriesLabel(474, 254, "{b|k = 5}", ORANGE),
    seriesLabel(651, 265, "{b|k = 10}", BLUE),
    seriesLabel(200, 483, "{g|ε} {b|= 0.2}", ORANGE),
    seriesLabel(232, 542, "{g|ε} {b|= 0.5}", BLUE),
    seriesLabel(274, 672, "{g|ε} {b|= 0.8}", GRAY),
    seriesLabel(508, 489, "{b|E}{bs|s}{b| = 0.8}", ORANGE),
    seriesLabel(671, 555, "{b|E}{bs|s}{b| = 0.5}", BLUE),
    seriesLabel(662, 622, "{b|E}{bs|s}{b| = 0.2}", GRAY),
    seriesLabel(325, 806, "{b|E}{bs|f}{b| = 0.5}", ORANGE),
    seriesLabel(145, 810, "{b|E}{bs|f}{b| = 0.2}", BLUE),
    seriesLabel(112, 890, "{b|E}{bs|f}{b| = 0.01}", GRAY),
    seriesLabel(697, 807, "{b|E}{bs|d}{b| = 25}", ORANGE),
    seriesLabel(475, 823, "{b|E}{bs|d}{b| = 10}", BLUE),
    seriesLabel(633, 890, "{b|E}{bs|d}{b| = 1}", GRAY),
  ];

  return {
    animation: false,
    backgroundColor: "#ffffff",
    textStyle: { fontFamily: FONT },
    grid,
    xAxis,
    yAxis,
    series,
    graphic,
  };
}

export default function App() {
  const ref = useRef<HTMLDivElement>(null);
  useEffect(() => {
    document.body.style.margin = "0";
    if (!ref.current) return;
    const chart = echarts.init(ref.current, undefined, { renderer: "svg" });
    chart.setOption(buildOption() as any);
    return () => chart.dispose();
  }, []);
  return <div ref={ref} style={{ width: 749, height: 1148 }} />;
}
